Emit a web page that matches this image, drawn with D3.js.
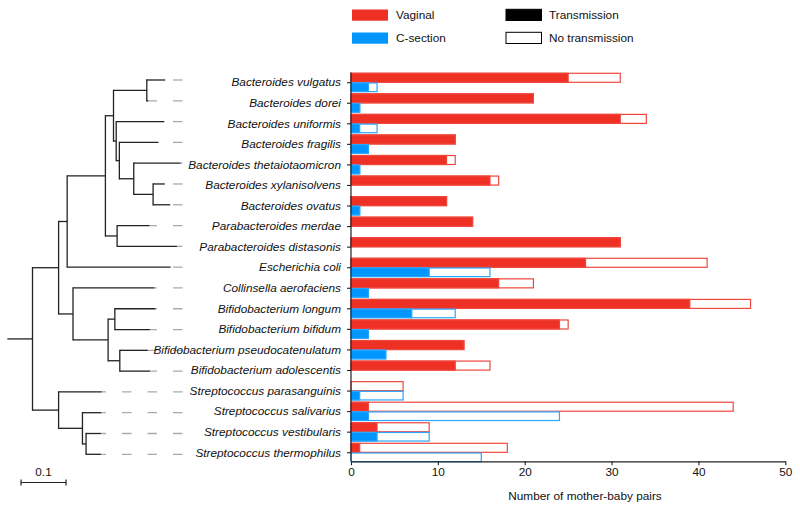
<!DOCTYPE html>
<html>
<head>
<meta charset="utf-8">
<script src="https://cdn.jsdelivr.net/npm/d3@7"></script>
<style>
  html, body { margin: 0; padding: 0; background: #fff; }
  svg { display: block; font-family: "Liberation Sans", Arial, Helvetica, sans-serif; }
</style>
</head>
<body>
<svg id="chart" width="800" height="509"></svg>
<script>
// ---------------- DATA ----------------
const species = [
  "Bacteroides vulgatus", "Bacteroides dorei", "Bacteroides uniformis", "Bacteroides fragilis",
  "Bacteroides thetaiotaomicron", "Bacteroides xylanisolvens", "Bacteroides ovatus",
  "Parabacteroides merdae", "Parabacteroides distasonis", "Escherichia coli",
  "Collinsella aerofaciens", "Bifidobacterium longum", "Bifidobacterium bifidum",
  "Bifidobacterium pseudocatenulatum", "Bifidobacterium adolescentis",
  "Streptococcus parasanguinis", "Streptococcus salivarius", "Streptococcus vestibularis",
  "Streptococcus thermophilus"
];
// Vaginal: transmission / total pairs
const vaginalTransmission = [25, 21, 31, 12, 11, 16, 11, 14, 31, 27, 17, 39, 24, 13, 12, 0, 2, 3, 1];
const vaginalTotal        = [31, 21, 34, 12, 12, 17, 11, 14, 31, 41, 21, 46, 25, 13, 16, 6, 44, 9, 18];
// C-section: transmission / total pairs
const csectionTransmission = [2, 1, 1, 2, 1, 0, 1, 0, 0, 9, 2, 7, 2, 4, 0, 1, 2, 3, 0];
const csectionTotal        = [3, 1, 3, 2, 1, 0, 1, 0, 0, 16, 2, 12, 2, 4, 0, 6, 24, 9, 15];

const xTicks = [0, 10, 20, 30, 40, 50];
const groups = ["Vaginal", "C-section"];
const legendStatus = ["Transmission", "No transmission"];
const axisTitle = "Number of mother-baby pairs";
const scaleBarLength = 0.1;

// Phylogenetic tree (Newick, branch lengths)
const treeNewick =
  "((((((Bacteroides_vulgatus:0.041,Bacteroides_dorei:0.003):0.074," +
  "(Bacteroides_uniformis:0.107,(Bacteroides_fragilis:0.087,(Bacteroides_thetaiotaomicron:0.104," +
  "(Bacteroides_xylanisolvens:0.026,Bacteroides_ovatus:0.038):0.043):0.032):0.007):0.006):0.018," +
  "(Parabacteroides_merdae:0.072,Parabacteroides_distasonis:0.133):0.026):0.085," +
  "Escherichia_coli:0.230):0.019," +
  "(Collinsella_aerofaciens:0.181,((Bifidobacterium_longum:0.090,Bifidobacterium_bifidum:0.078):0.015," +
  "(Bifidobacterium_pseudocatenulatum:0.062,Bifidobacterium_adolescentis:0.067):0.026):0.078):0.032):0.058," +
  "(Streptococcus_parasanguinis:0.096,(Streptococcus_salivarius:0.042," +
  "(Streptococcus_vestibularis:0.033,Streptococcus_thermophilus:0.033):0.008):0.053):0.058):0.056;";

// ---------------- STYLE ----------------
const RED = "#ee3124", RED_LINE = "#f0473d";
const BLUE = "#0096ff", BLUE_LINE = "#2aa6ff";
const FONT = 11.8;
const TXT = "#111";

const svg = d3.select("#chart");

// ---------------- SCALES ----------------
const x = d3.scaleLinear().domain([0, 50]).range([351, 785.3]);
const y = d3.scaleBand().domain(species).range([72.4, 463.0]).padding(0);
const axisY = 461.3;

// ---------------- BARS ----------------
const rows = species.map((s, i) => ({
  s,
  vt: vaginalTransmission[i], vn: vaginalTotal[i],
  ct: csectionTransmission[i], cn: csectionTotal[i]
}));
const gBars = svg.append("g");
rows.forEach(r => {
  const c = y(r.s) + y.bandwidth() / 2;
  const specs = [
    { t: r.vt, n: r.vn, y0: c - 9.4, h: 9.0, fill: RED, line: RED_LINE },
    { t: r.ct, n: r.cn, y0: c + 0.3, h: 8.6, fill: BLUE, line: BLUE_LINE }
  ];
  specs.forEach(b => {
    if (b.n <= 0) return;
    gBars.append("rect")
      .attr("x", x(0)).attr("y", b.y0)
      .attr("width", x(b.n) - x(0)).attr("height", b.h)
      .attr("fill", "#fff").attr("stroke", b.line).attr("stroke-width", 1.2);
    if (b.t > 0) {
      gBars.append("rect")
        .attr("x", x(0)).attr("y", b.y0)
        .attr("width", x(b.t) - x(0)).attr("height", b.h)
        .attr("fill", b.fill).attr("stroke", b.line).attr("stroke-width", 1.2);
    }
  });
});

// ---------------- AXES ----------------
const gy = svg.append("g").attr("transform", `translate(${x(0)},0)`)
  .call(d3.axisLeft(y).tickSize(4).tickSizeOuter(0).tickPadding(6));
gy.select(".domain").attr("d", `M0,${y.range()[0]}V${axisY}`).attr("stroke", "#222").attr("stroke-width", 1.2);
gy.selectAll(".tick line").attr("stroke", "#222").attr("stroke-width", 1.1);
gy.selectAll(".tick text")
  .attr("font-family", '"Liberation Sans", Arial, Helvetica, sans-serif')
  .attr("font-size", FONT).attr("font-style", "italic").attr("fill", TXT)
  .attr("dy", "0.32em");

const gx = svg.append("g").attr("transform", `translate(0,${axisY})`)
  .call(d3.axisBottom(x).tickValues(xTicks).tickSize(4).tickSizeOuter(0).tickPadding(2));
gx.select(".domain").attr("stroke", "#222").attr("stroke-width", 1.2);
gx.selectAll(".tick line").attr("stroke", "#222").attr("stroke-width", 1.1);
gx.selectAll(".tick text")
  .attr("font-family", '"Liberation Sans", Arial, Helvetica, sans-serif')
  .attr("font-size", FONT).attr("fill", TXT);

svg.append("text")
  .attr("x", 585).attr("y", 499.5)
  .attr("text-anchor", "middle").attr("font-size", FONT).attr("fill", TXT)
  .text(axisTitle);

// ---------------- LEGEND ----------------
const legendColors = [RED, BLUE];
groups.forEach((g, i) => {
  const yy = 9.5 + i * 23;
  svg.append("rect").attr("x", 352).attr("y", yy).attr("width", 36).attr("height", 11.2)
    .attr("fill", legendColors[i]);
  svg.append("text").attr("x", 396).attr("y", yy + 9).attr("font-size", FONT).attr("fill", TXT).text(g);
});
legendStatus.forEach((g, i) => {
  const yy = 9.3 + i * 23;
  svg.append("rect").attr("x", 506).attr("y", yy).attr("width", 35.5).attr("height", 11.2)
    .attr("fill", i === 0 ? "#000" : "#fff").attr("stroke", "#000").attr("stroke-width", 1);
  svg.append("text").attr("x", 549).attr("y", yy + 9.2).attr("font-size", FONT).attr("fill", TXT).text(g);
});

// ---------------- TREE ----------------
function parseNewick(s) {
  let i = 0;
  function node() {
    const n = { children: [] };
    if (s[i] === "(") {
      i++;
      n.children.push(node());
      while (s[i] === ",") { i++; n.children.push(node()); }
      i++; // ')'
    }
    let name = "";
    while (i < s.length && !",):;".includes(s[i])) name += s[i++];
    n.name = name.replace(/_/g, " ");
    n.length = 0;
    if (s[i] === ":") {
      i++;
      let len = "";
      while (i < s.length && !",);".includes(s[i])) len += s[i++];
      n.length = +len;
    }
    return n;
  }
  return node();
}

const root = d3.hierarchy(parseNewick(treeNewick), d => d.children.length ? d.children : null);
root.each(d => { d.dist = (d.parent ? d.parent.dist : 0) + d.data.length; });

const tx = d3.scaleLinear().domain([0, 1]).range([7.3, 457.3]); // 0.1 = 45px
const ty = d3.scalePoint().domain(species).range([80, 454.3]);
root.eachAfter(d => {
  if (d.children) d.yy = (d.children[0].yy + d.children[d.children.length - 1].yy) / 2;
  else d.yy = ty(d.data.name);
});

const gTree = svg.append("g").attr("stroke", "#222").attr("stroke-width", 1.3).attr("fill", "none");
// dashed gray connectors from leaf tips toward labels
const dashEnd = 182.5;
root.leaves().forEach(l => {
  svg.insert("line", "g")
    .attr("x1", dashEnd).attr("x2", tx(l.dist))
    .attr("y1", l.yy).attr("y2", l.yy)
    .attr("stroke", "#aaaaaa").attr("stroke-width", 1.3)
    .attr("stroke-dasharray", "9.5,16");
});
// root stem
gTree.append("line").attr("x1", tx(0)).attr("x2", tx(root.dist)).attr("y1", root.yy).attr("y2", root.yy);
root.descendants().forEach(d => {
  if (d.children) {
    const c0 = d.children[0], c1 = d.children[d.children.length - 1];
    gTree.append("line").attr("x1", tx(d.dist)).attr("x2", tx(d.dist))
      .attr("y1", c0.yy).attr("y2", c1.yy).attr("stroke-linecap", "square");
    d.children.forEach(c => {
      gTree.append("line").attr("x1", tx(d.dist)).attr("x2", tx(c.dist))
        .attr("y1", c.yy).attr("y2", c.yy);
    });
  }
});

// scale bar
const sb = svg.append("g").attr("stroke", "#222").attr("stroke-width", 1.2);
const sbY = 482.5;
sb.append("line").attr("x1", tx(0.0305)).attr("x2", tx(0.0305 + scaleBarLength)).attr("y1", sbY).attr("y2", sbY);
[0.0305, 0.0305 + scaleBarLength].forEach(v => {
  sb.append("line").attr("x1", tx(v)).attr("x2", tx(v)).attr("y1", sbY - 3).attr("y2", sbY + 3);
});
svg.append("text").attr("x", (tx(0.0305) + tx(0.0305 + scaleBarLength)) / 2).attr("y", 476)
  .attr("text-anchor", "middle").attr("font-size", FONT).attr("fill", TXT).text(String(scaleBarLength));
</script>
</body>
</html>
